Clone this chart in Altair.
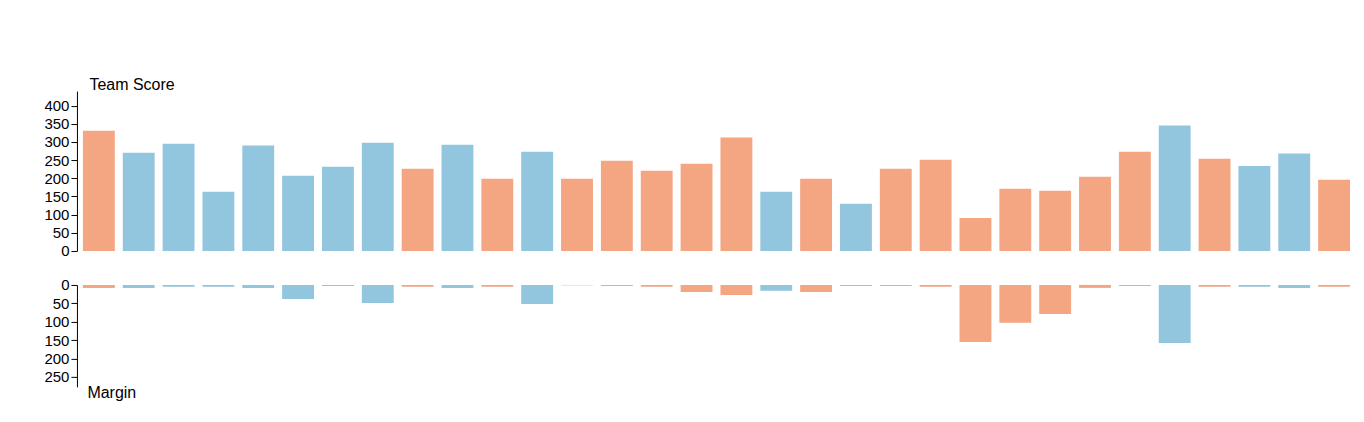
import altair as alt
import pandas as pd

scores = [331, 270, 295, 163, 290, 207, 232, 298, 226, 292, 199, 273, 199, 248, 221, 240,
          312, 163, 199, 130, 226, 251, 91, 171, 166, 204, 273, 345, 254, 234, 268, 196]
margins = [8, 8, 5, 5, 8, 38, 3, 49, 5, 8, 5, 52, 1, 3, 5, 19,
           27, 16, 19, 3, 3, 5, 155, 103, 79, 8, 3, 158, 5, 5, 8, 5]
teams = ["O", "B", "B", "B", "B", "B", "B", "B", "O", "B", "O", "B", "O", "O", "O", "O",
         "O", "B", "O", "B", "O", "O", "O", "O", "O", "O", "O", "B", "O", "B", "B", "O"]

df = pd.DataFrame({"game": list(range(len(scores))), "score": scores,
                   "margin": margins, "team": teams})

color = alt.Color("team:N", scale=alt.Scale(domain=["O", "B"], range=["#f4a582", "#92c5de"]),
                  legend=None)
xenc = alt.X("game:O", axis=None, scale=alt.Scale(paddingInner=0.2, paddingOuter=0.15))
axis_style = dict(grid=False, domainColor="black", tickColor="black", labelColor="black",
                  labelFontSize=15, tickSize=6, titleAngle=0, titleAlign="left",
                  titleFontSize=16, titleFontWeight="normal", titleColor="black")

top = alt.Chart(df).mark_bar().encode(
    x=xenc,
    y=alt.Y("score:Q", scale=alt.Scale(domain=[0, 440], nice=False),
            axis=alt.Axis(values=list(range(0, 401, 50)), title="Team Score",
                          titleX=12, titleY=1, titleBaseline="bottom", **axis_style)),
    color=color,
).properties(width=1280, height=160)

bottom = alt.Chart(df).mark_bar().encode(
    x=xenc,
    y=alt.Y("margin:Q", scale=alt.Scale(domain=[0, 277], nice=False, reverse=True),
            axis=alt.Axis(values=list(range(0, 251, 50)), title="Margin",
                          titleX=10, titleY=100, titleBaseline="top", **axis_style)),
    color=color,
).properties(width=1280, height=102)

chart = alt.vconcat(top, bottom, spacing=19).properties(
    padding={"top": 68, "left": 35, "right": 0, "bottom": 0}
).configure_view(stroke=None)

chart.save("out.html", embed_options={"renderer": "svg", "actions": False})
